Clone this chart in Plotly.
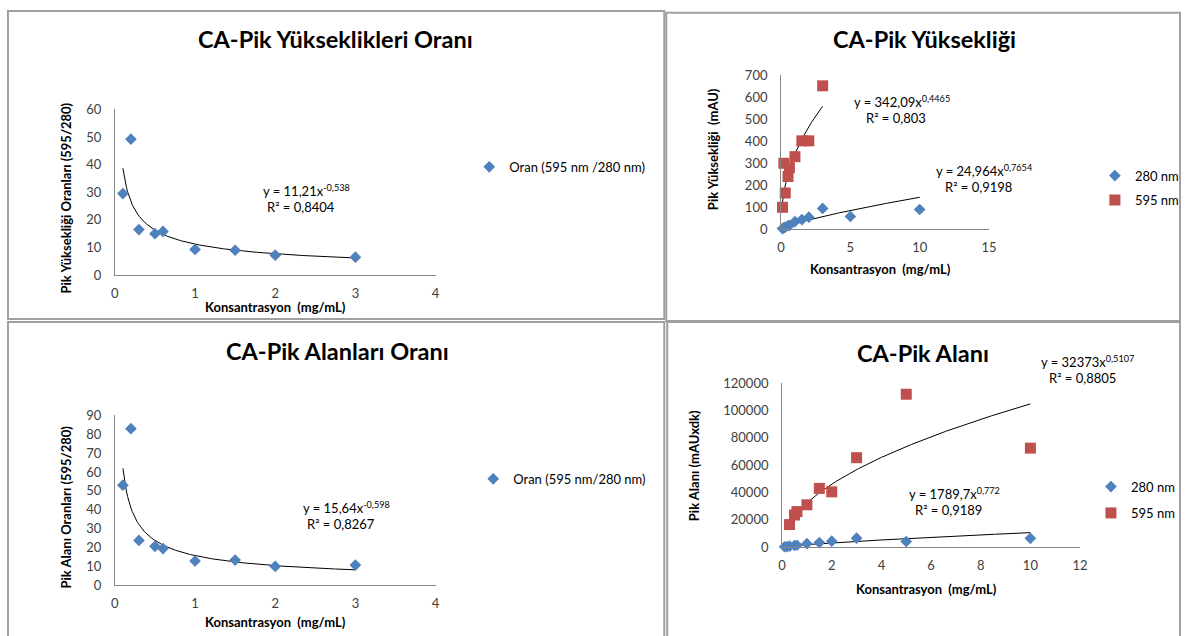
import plotly.graph_objects as go
import numpy as np

W, H = 1191, 636

# ---- data -------------------------------------------------------------
# Peak height ratio (595/280) vs concentration
ratio_h_x = [0.1, 0.2, 0.3, 0.5, 0.6, 1, 1.5, 2, 3]
ratio_h_y = [29.5, 49.2, 16.5, 15.0, 15.8, 9.3, 9.0, 7.2, 6.5]
ratio_h_fit = (11.21, -0.538)

# Peak height (mAU)
height_280_x = [0.1, 0.2, 0.3, 0.5, 0.6, 1, 1.5, 2, 3, 5, 10]
height_280_y = [3.4, 6.1, 10, 16, 17.7, 35, 44, 55, 95, 58, 90]
height_595_x = [0.1, 0.2, 0.3, 0.5, 0.6, 1, 1.5, 2, 3]
height_595_y = [100, 300, 165, 240, 280, 330, 402, 402, 652]
height_280_fit = (24.964, 0.7654)
height_595_fit = (342.09, 0.4465)

# Peak area ratio (595/280) vs concentration
ratio_a_x = [0.1, 0.2, 0.3, 0.5, 0.6, 1, 1.5, 2, 3]
ratio_a_y = [53.0, 83.0, 23.7, 20.6, 19.4, 12.8, 13.3, 9.9, 10.6]
ratio_a_fit = (15.64, -0.598)

# Peak area (mAU x min)
area_280_x = [0.1, 0.2, 0.3, 0.5, 0.6, 1, 1.5, 2, 3, 5, 10]
area_280_y = [250, 350, 700, 1150, 1330, 2500, 3300, 4300, 6500, 4100, 6450]
area_595_x = [0.3, 0.5, 0.6, 1, 1.5, 2, 3, 5, 10]
area_595_y = [16500, 23500, 26000, 31000, 43000, 40500, 65500, 112000, 72500]
area_280_fit = (1789.7, 0.772)
area_595_fit = (32373, 0.5107)

# ---- styling ----------------------------------------------------------
FONT = "Lato"
BLUE = "#4F81BD"
RED = "#C0504D"
TICK_COL = "#404040"
AXIS_COL = "#868686"


def px(x):
    return x / W


def py(y):
    return 1 - y / H


def power_curve(x_vals, coef):
    a, b = coef
    xs = np.linspace(min(x_vals), max(x_vals), 200)
    return xs, a * xs ** b


fig = go.Figure()


def add_points(x, y, color, symbol, size, name, idx, legend, show=True):
    fig.add_trace(go.Scatter(
        x=x, y=y, mode="markers", name=name,
        marker=dict(color=color, symbol=symbol, size=size, line=dict(width=0)),
        xaxis=f"x{idx}", yaxis=f"y{idx}", cliponaxis=False,
        showlegend=show, legend=legend,
    ))


def add_fit(x, coef, idx):
    xs, ys = power_curve(x, coef)
    fig.add_trace(go.Scatter(
        x=xs, y=ys, mode="lines", line=dict(color="black", width=1),
        xaxis=f"x{idx}", yaxis=f"y{idx}", showlegend=False, hoverinfo="skip",
    ))


# panel 1
add_fit(ratio_h_x, ratio_h_fit, 1)
add_points(ratio_h_x, ratio_h_y, BLUE, "diamond", 9, "Oran (595 nm /280 nm)", 1, "legend")
# panel 2
add_fit(height_280_x, height_280_fit, 2)
add_fit(height_595_x, height_595_fit, 2)
add_points(height_280_x, height_280_y, BLUE, "diamond", 9, "280 nm", 2, "legend2")
add_points(height_595_x, height_595_y, RED, "square", 11, "595 nm", 2, "legend3")
# panel 3
add_fit(ratio_a_x, ratio_a_fit, 3)
add_points(ratio_a_x, ratio_a_y, BLUE, "diamond", 9, "Oran (595 nm/280 nm)", 3, "legend4")
# panel 4
add_fit(area_280_x, area_280_fit, 4)
add_fit(area_595_x, area_595_fit, 4)
add_points(area_280_x, area_280_y, BLUE, "diamond", 9, "280 nm", 4, "legend5")
add_points(area_595_x, area_595_y, RED, "square", 11, "595 nm", 4, "legend6")

tickfont = dict(family=FONT, size=13, color=TICK_COL)


def xax(dom, rng, dtick, anchor):
    return dict(domain=[px(dom[0]), px(dom[1])], range=rng, dtick=dtick, tick0=0,
                showgrid=False, zeroline=False, showline=True, linecolor=AXIS_COL,
                linewidth=1, ticks="", tickfont=tickfont, anchor=anchor,
                ticklabelstandoff=6, fixedrange=True)


def yax(dom, rng, dtick, anchor, fmt=None):
    d = dict(domain=[py(dom[0]), py(dom[1])], range=rng, dtick=dtick, tick0=0,
             showgrid=False, zeroline=False, showline=True, linecolor=AXIS_COL,
             linewidth=1, ticks="", tickfont=tickfont, anchor=anchor,
             ticklabelstandoff=10, fixedrange=True)
    if fmt:
        d["tickformat"] = fmt
    return d


layout = dict(
    width=W, height=H, margin=dict(l=0, r=0, t=0, b=0),
    paper_bgcolor="white", plot_bgcolor="white",
    font=dict(family=FONT, color="black"),
    xaxis=xax((112, 436), [0, 4], 1, "y"),
    yaxis=yax((274, 104), [0, 60], 10, "x"),
    xaxis2=xax((785, 995), [0, 15], 5, "y2"),
    yaxis2=yax((227, 69), [0, 700], 100, "x2"),
    xaxis3=xax((112, 436), [0, 4], 1, "y3"),
    yaxis3=yax((592, 418), [0, 90], 10, "x3"),
    xaxis4=xax((786, 1087), [0, 12], 2, "y4"),
    yaxis4=yax((553, 385), [0, 120000], 20000, "x4", fmt="d"),
    showlegend=True,
)


def legend_at(x, y):
    return dict(x=px(x), y=py(y), xanchor="left", yanchor="middle",
                bgcolor="rgba(0,0,0,0)", borderwidth=0, itemwidth=30,
                font=dict(family=FONT, size=13, color="black"))


layout["legend"] = legend_at(470, 163)
layout["legend2"] = legend_at(1102, 172)
layout["legend3"] = legend_at(1102, 197)
layout["legend4"] = legend_at(474, 483)
layout["legend5"] = legend_at(1098, 491)
layout["legend6"] = legend_at(1098, 518)

fig.update_layout(**layout)

# panel frames
frames = [(4, 3, 667, 319), (669, 5, 1188, 321), (4, 322, 667, 660), (670, 322, 1188, 660)]
for x0, y0, x1, y1 in frames:
    fig.add_shape(type="rect", xref="paper", yref="paper",
                  x0=px(x0), x1=px(x1), y0=py(y1), y1=py(y0),
                  line=dict(color="#A0A0A0", width=2), fillcolor="rgba(0,0,0,0)", layer="below")


def text(x, y, s, size=13, bold=False, angle=0, color="black"):
    fig.add_annotation(x=px(x), y=py(y), xref="paper", yref="paper",
                       text=f"<b>{s}</b>" if bold else s,
                       showarrow=False, textangle=angle, xanchor="center", yanchor="middle",
                       font=dict(family=FONT, size=size, color=color))


# chart titles
TITLE_SIZE = 23.5
text(335, 32, "CA-Pik Yükseklikleri Oranı", size=TITLE_SIZE, bold=True)
text(930, 32, "CA-Pik Yüksekliği", size=TITLE_SIZE, bold=True)
text(337, 352, "CA-Pik Alanları Oranı", size=TITLE_SIZE, bold=True)
text(928, 354, "CA-Pik Alanı", size=TITLE_SIZE, bold=True)

# axis titles
AX_SIZE = 13
text(274, 307, "Konsantrasyon  (mg/mL)", size=AX_SIZE, bold=True)
text(63, 195, "Pik Yüksekliği Oranları (595/280)", size=AX_SIZE, bold=True, angle=-90)
text(885, 268, "Konsantrasyon  (mg/mL)", size=AX_SIZE, bold=True)
text(717, 145, "Pik Yüksekliği  (mAU)", size=AX_SIZE, bold=True, angle=-90)
text(274, 630, "Konsantrasyon  (mg/mL)", size=AX_SIZE, bold=True)
text(63, 512, "Pik Alanı Oranları (595/280)", size=AX_SIZE, bold=True, angle=-90)
text(932, 596, "Konsantrasyon  (mg/mL)", size=AX_SIZE, bold=True)
text(697, 469, "Pik Alanı (mAUxdk)", size=AX_SIZE, bold=True, angle=-90)


def fmt_num(v):
    return str(v).replace(".", ",")


def eq(x, y, coef, r2):
    a, b = coef
    text(x, y, f"y = {fmt_num(a)}x<sup>{fmt_num(b)}</sup>", size=13)
    text(x - 6, y + 17, f"R² = {fmt_num(r2)}", size=13)


eq(306, 187, ratio_h_fit, 0.8404)
eq(907, 96, height_595_fit, 0.803)
eq(990, 167, height_280_fit, 0.9198)
eq(346, 512, ratio_a_fit, 0.8267)
eq(1095, 363, area_595_fit, 0.8805)
eq(960, 498, area_280_fit, 0.9189)

# page style: no body margin or scrollbars, so the figure fills the window exactly
PAGE_CSS = (
    "var s=document.createElement('style');"
    "s.textContent='html,body{margin:0!important;padding:0!important;overflow:hidden}';"
    "document.head.appendChild(s);"
)
fig.write_html("out.html", post_script=PAGE_CSS)
